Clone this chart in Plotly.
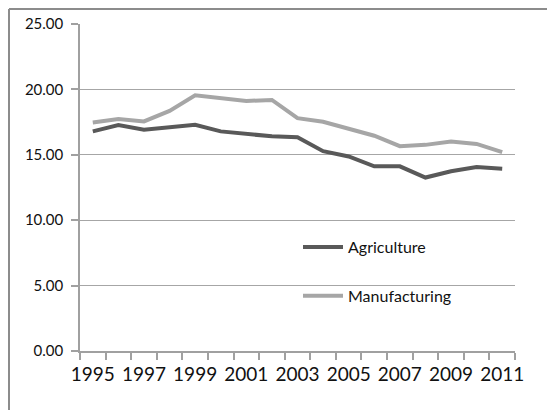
import plotly.graph_objects as go

years = list(range(1995, 2012))
agriculture = [16.79, 17.27, 16.92, 17.10, 17.30, 16.79, 16.59, 16.41, 16.34, 15.28, 14.87, 14.12, 14.12, 13.26, 13.74, 14.07, 13.94]
manufacturing = [17.47, 17.73, 17.55, 18.36, 19.55, 19.37, 19.12, 19.19, 17.80, 17.53, 16.97, 16.46, 15.66, 15.76, 16.01, 15.83, 15.20]
y_ticks = [0, 5, 10, 15, 20, 25]
x_labels = list(range(1995, 2012, 2))

fig = go.Figure()
fig.add_trace(go.Scatter(x=years, y=agriculture, mode="lines", name="Agriculture",
                         line=dict(color="#595959", width=4), legendgroup="a"))
fig.add_trace(go.Scatter(x=years, y=manufacturing, mode="lines", name="Manufacturing",
                         line=dict(color="#a6a6a6", width=4), legendgroup="m"))

L, R, T, B = 80, 32, 24, 59
W, H = 547, 410
pw, ph = W - L - R, H - T - B

def px_x(p):
    return (p - L) / pw

def px_y(p):
    return (H - B - p) / ph

fig.update_layout(
    width=W, height=H,
    margin=dict(l=L, r=R, t=T, b=B),
    paper_bgcolor="white", plot_bgcolor="white",
    font=dict(family="Lato", color="#111111"),
    showlegend=True,
    legend=dict(x=px_x(298), y=px_y(230), xanchor="left", yanchor="top",
                font=dict(size=16, family="Lato"), bgcolor="rgba(0,0,0,0)",
                traceorder="grouped", tracegroupgap=25, itemwidth=40),
    xaxis=dict(range=[1994.5, 2011.5], tickmode="array", tickvals=x_labels,
               ticktext=[str(v) for v in x_labels], ticks="outside", ticklen=5,
               tickcolor="rgba(0,0,0,0)", tickfont=dict(size=19),
               showgrid=False, showline=True, linecolor="#a0a0a0", linewidth=1.5,
               zeroline=False,
               minor=dict(tickmode="linear", tick0=1994.5, dtick=1, ticks="outside",
                          ticklen=7, tickcolor="#a0a0a0", tickwidth=1.5, showgrid=False)),
    yaxis=dict(range=[0, 25], tickvals=y_ticks, ticktext=[f"{v:.2f}" for v in y_ticks],
               ticks="outside", ticklen=7, tickcolor="#a0a0a0", tickwidth=1.5,
               ticklabelstandoff=5,
               tickfont=dict(size=15), showgrid=True, gridcolor="#a6a6a6", gridwidth=1,
               showline=True, linecolor="#a0a0a0", linewidth=1.5, zeroline=False),
    shapes=[
        dict(type="line", xref="paper", yref="paper",
             x0=px_x(9), x1=px_x(W + 5), y0=px_y(9), y1=px_y(9),
             line=dict(color="#8c8c8c", width=2)),
        dict(type="line", xref="paper", yref="paper",
             x0=px_x(9), x1=px_x(9), y0=px_y(9), y1=px_y(H + 5),
             line=dict(color="#8c8c8c", width=2)),
    ],
)

fig.write_html("out.html")
